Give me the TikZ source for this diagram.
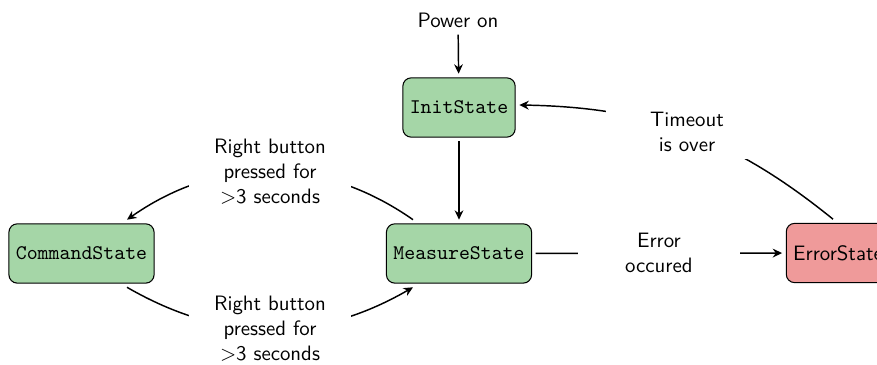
\documentclass[tikz,border=0pt]{standalone}
\usetikzlibrary{arrows.meta,calc}

\definecolor{stategreen}{RGB}{165,214,167}
\definecolor{statered}{RGB}{239,154,154}

\tikzset{
  state/.style={draw, line width=0.5pt, rounded corners=4pt, minimum height=1cm,
    fill=stategreen, font=\ttfamily, outer sep=2pt},
  errstate/.style={state, fill=statered, font=\sffamily},
  translabel/.style={fill=white, text width=2.5cm, align=center, font=\sffamily},
  conn/.style={line width=0.7pt, -{Stealth[length=4.5pt,width=4.2pt]}},
}

\begin{document}
\begin{tikzpicture}[x=0.48pt,y=0.48pt]
  \clip (0,0) rectangle (877,365);
  \useasboundingbox (0,0) rectangle (877,365);

  % states
  \node (P) at (458,345) {\sffamily Power on};
  \node[state] (I) at (459,257.5) {InitState};
  \node[state] (M) at (459,111.5) {MeasureState};
  \node[state] (C) at (81.5,111.5) {CommandState};
  \node[errstate] (E) at (838,112) {ErrorState};

  % attachment points on the box borders
  \coordinate (Mnw) at ($(M.north)+(-46,0)$);
  \coordinate (Msw) at ($(M.south)+(-46,0)$);
  \coordinate (Cne) at ($(C.north)+(45.5,0)$);
  \coordinate (Cse) at ($(C.south)+(45.5,0)$);
  \coordinate (En)  at ($(E.north)+(-5,0)$);

  % transitions
  \draw[conn] (P) -- (I);
  \draw[conn] (I) -- (M);
  \draw[conn] (Mnw) to[bend right=35]
    node[translabel] {Right button\\pressed for\\$>$3 seconds} (Cne);
  \draw[conn] (Cse) to[bend right=30]
    node[translabel] {Right button\\pressed for\\$>$3 seconds} (Msw);
  \draw[conn] (M) -- node[translabel] {Error\\occured} (E);
  \draw[conn] (En) to[bend right=19]
    node[translabel] {Timeout\\is over} (I);
\end{tikzpicture}
\end{document}
